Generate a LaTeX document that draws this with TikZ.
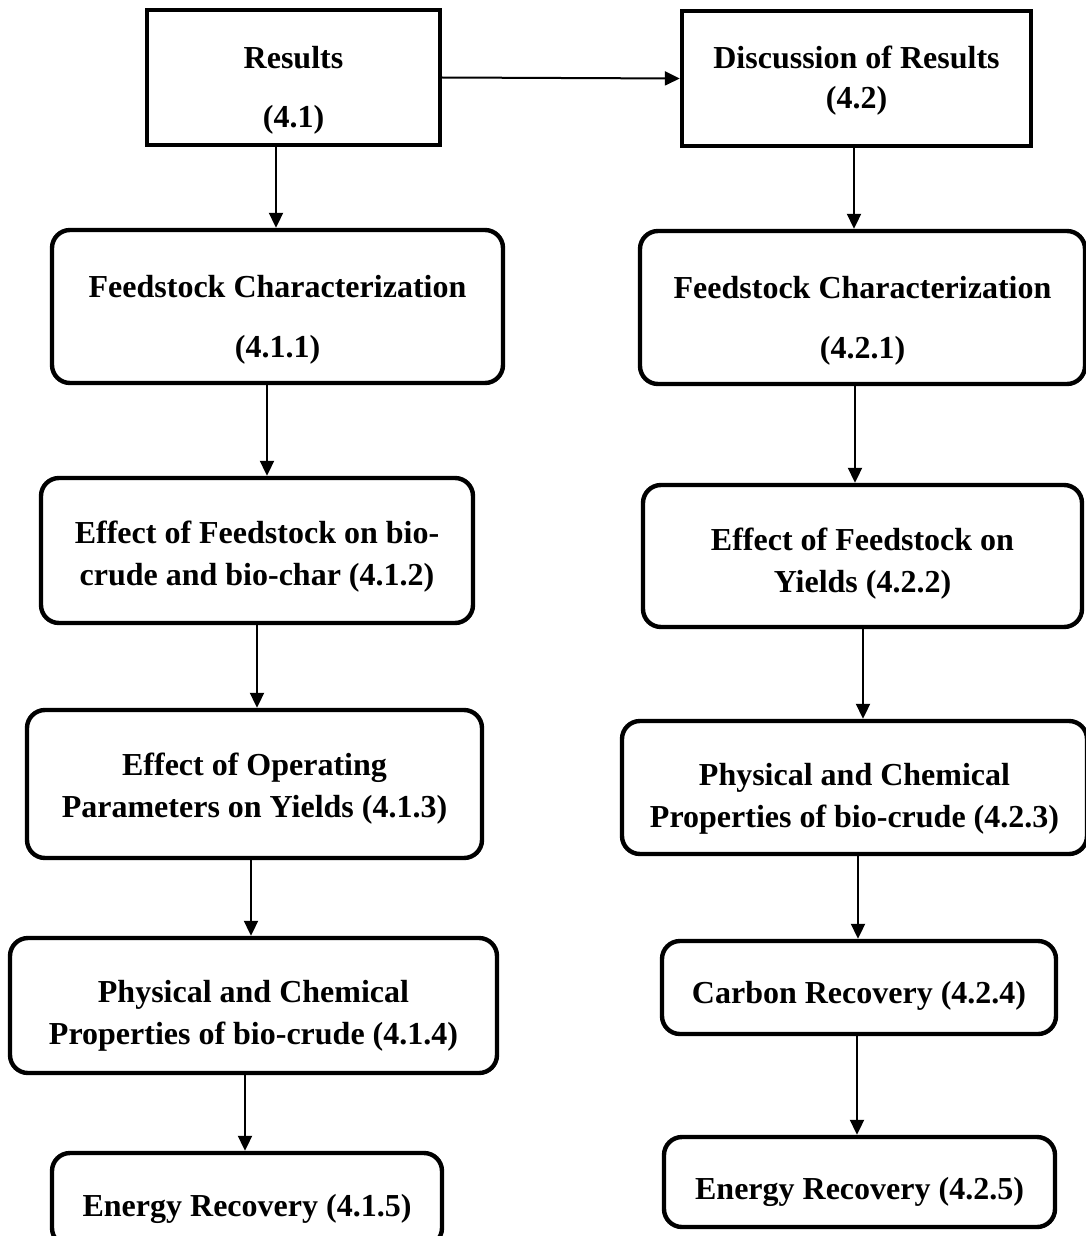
\documentclass[tikz,border=0pt]{standalone}
\usepackage{fontspec}
\setmainfont{Liberation Serif}
\usetikzlibrary{arrows.meta}
\tikzset{
  box/.style={draw, line width=2.2pt, inner sep=0pt, align=center,
    font=\fontsize{16}{21}\selectfont\bfseries},
  sqbox/.style={box, sharp corners},
  rbox/.style={box, rounded corners=9pt},
  arr/.style={line width=1pt, -{Triangle[length=7.5pt,width=7pt]}}
}
\newcommand{\up}[1]{\rule{0pt}{#1}}
\begin{document}
\begin{tikzpicture}[x=0.5pt,y=-0.5pt]
\useasboundingbox (0,0) rectangle (1086,1236);
\clip (0,0) rectangle (1086,1236);
% top boxes
\node[sqbox, minimum width=146.5pt, minimum height=67.5pt] (R1) at (293.5,77.5) {\up{23.5pt}Results\\[8.5pt](4.1)};
\node[sqbox, minimum width=174.5pt, minimum height=67.5pt] (R2) at (856.5,78.5) {\up{13pt}Discussion of Results\\[-1pt](4.2)};
% left column
\node[rbox, minimum width=225.5pt, minimum height=76.5pt] (L1) at (277.5,306.5) {\up{24pt}Feedstock Characterization\\[9pt](4.1.1)};
\node[rbox, minimum width=216pt, minimum height=72.5pt] (L2) at (257,550.5) {\up{17pt}Effect of Feedstock on bio-\\crude and bio-char (4.1.2)};
\node[rbox, minimum width=227.5pt, minimum height=74pt] (L3) at (254.5,784) {\up{16pt}Effect of Operating\\Parameters on Yields (4.1.3)};
\node[rbox, minimum width=243.5pt, minimum height=67.5pt] (L4) at (253.5,1005.5) {\up{21pt}Physical and Chemical\\Properties of bio-crude (4.1.4)};
\node[rbox, minimum width=195pt, minimum height=46.5pt] (L5) at (247,1199.5) {\up{21pt}Energy Recovery (4.1.5)};
% right column
\node[rbox, minimum width=222.5pt, minimum height=76.5pt] (R3) at (862.5,307.5) {\up{24pt}Feedstock Characterization\\[9pt](4.2.1)};
\node[rbox, minimum width=219.5pt, minimum height=71pt] (R4) at (862.5,556) {\up{18.5pt}Effect of Feedstock on\\Yields (4.2.2)};
\node[rbox, minimum width=232.5pt, minimum height=66.5pt] (R5) at (854.5,787.5) {\up{22pt}Physical and Chemical\\Properties of bio-crude (4.2.3)};
\node[rbox, minimum width=197pt, minimum height=46.5pt] (R6) at (859,987.5) {\up{19pt}Carbon Recovery (4.2.4)};
\node[rbox, minimum width=195.5pt, minimum height=45pt] (R7) at (859.5,1182) {\up{21pt}Energy Recovery (4.2.5)};
% arrow x positions
\coordinate (a1) at (276,0);
\coordinate (a2) at (267,0);
\coordinate (a3) at (257,0);
\coordinate (a4) at (251,0);
\coordinate (a5) at (245,0);
\coordinate (b1) at (854,0);
\coordinate (b2) at (855,0);
\coordinate (b3) at (863,0);
\coordinate (b4) at (858,0);
\coordinate (b5) at (857,0);
% connectors
\draw[arr] (R1.east) -- (R2.west);
\draw[arr] (R1.south -| a1) -- (L1.north -| a1);
\draw[arr] (L1.south -| a2) -- (L2.north -| a2);
\draw[arr] (L2.south -| a3) -- (L3.north -| a3);
\draw[arr] (L3.south -| a4) -- (L4.north -| a4);
\draw[arr] (L4.south -| a5) -- (L5.north -| a5);
\draw[arr] (R2.south -| b1) -- (R3.north -| b1);
\draw[arr] (R3.south -| b2) -- (R4.north -| b2);
\draw[arr] (R4.south -| b3) -- (R5.north -| b3);
\draw[arr] (R5.south -| b4) -- (R6.north -| b4);
\draw[arr] (R6.south -| b5) -- (R7.north -| b5);
\end{tikzpicture}
\end{document}
